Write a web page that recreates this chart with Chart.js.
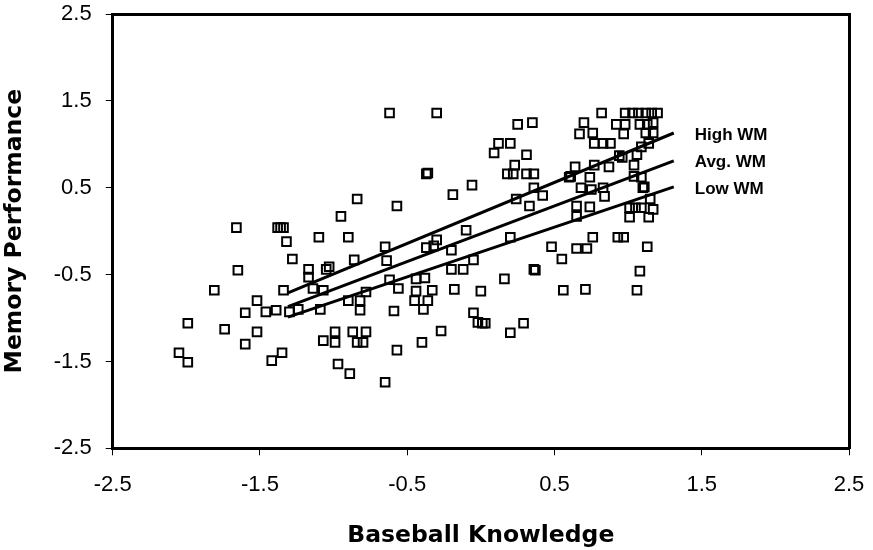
<!DOCTYPE html>
<html><head><meta charset="utf-8">
<script src="https://cdn.jsdelivr.net/npm/chart.js@4"></script>
<style>html,body{margin:0;padding:0;background:#fff}#wrap{width:873px;height:550px;position:relative}</style>
</head><body><div id="wrap"><canvas id="c" width="873" height="550"></canvas></div>
<script>
// ---- data ----
const scatterX = [
 -1.66,-1.38,-1.36,-1.34,-1.32,-1.10,-1.28,-1.65,-1.17,-1.17,-1.05,-1.03,-1.81,-1.34,-1.14,-1.07,-1.52,-1.60,-1.46,-1.39,-1.30,-1.24,-1.09,-1.99,-1.74,-1.52,-1.07,-2.05,-1.99,-1.60,-1.35,-1.42,
 -0.62,-0.30,0.09,0.12,0.20,-0.37,-0.36,-0.19,-0.06,-0.84,-0.57,-0.95,-0.90,-0.10,-0.30,-0.65,-0.37,-0.32,-0.20,
 -0.05,-0.86,-0.64,-0.20,-0.12,-0.62,-0.44,-0.38,-0.56,-0.78,-0.44,-0.33,-0.18,0.00,-0.90,-0.82,-0.45,-0.36,-0.82,-0.59,-0.39,-0.05,-0.02,0.01,0.03,-0.99,-0.99,-0.87,-0.78,-0.84,-0.80,-0.27,-0.40,-0.57,-0.97,-0.89,-0.65,
 0.82,0.98,1.03,1.07,1.12,1.16,1.20,0.25,0.35,0.70,0.92,0.98,1.08,1.13,1.17,0.67,0.76,0.97,1.12,1.17,0.77,0.83,0.88,1.09,1.14,0.31,0.94,0.96,1.06,0.23,0.64,0.77,0.87,1.04,0.18,0.22,0.31,0.36,0.60,0.61,0.74,1.04,1.09,0.36,0.42,0.68,0.75,0.83,0.84,1.10,1.11,0.24,0.33,0.65,0.74,0.65,1.15,1.17,1.01,1.05,1.09,1.01,1.14,0.20,0.76,0.93,0.97,0.48,0.65,0.72,1.13,
 0.55,0.16,0.36,0.37,1.08,0.56,0.71,1.06,0.29,0.20
];
const scatterY = [
 0.04,0.04,0.04,0.04,-0.12,-0.07,-0.32,-0.45,-0.44,-0.53,-0.44,-0.41,-0.68,-0.68,-0.66,-0.68,-0.80,-0.94,-0.93,-0.91,-0.93,-0.90,-0.90,-1.06,-1.13,-1.16,-1.26,-1.40,-1.51,-1.30,-1.40,-1.49,
 1.36,1.36,0.90,1.01,1.01,0.66,0.67,0.42,0.53,0.37,0.29,0.17,-0.07,0.01,-0.10,-0.18,-0.19,-0.17,-0.22,
 -0.33,-0.33,-0.34,-0.44,-0.44,-0.56,-0.55,-0.54,-0.66,-0.70,-0.69,-0.68,-0.67,-0.69,-0.80,-0.80,-0.80,-0.80,-0.91,-0.92,-0.90,-0.94,-1.05,-1.06,-1.06,-1.16,-1.28,-1.16,-1.16,-1.28,-1.28,-1.15,-1.28,-1.37,-1.53,-1.64,-1.74,
 1.36,1.36,1.36,1.36,1.36,1.36,1.36,1.23,1.25,1.25,1.23,1.23,1.23,1.23,1.25,1.12,1.13,1.12,1.13,1.13,1.01,1.01,1.01,0.97,1.01,0.88,0.87,0.85,0.88,0.76,0.74,0.76,0.74,0.76,0.66,0.66,0.66,0.66,0.62,0.63,0.62,0.63,0.62,0.50,0.41,0.50,0.48,0.50,0.40,0.50,0.51,0.37,0.29,0.29,0.28,0.17,0.37,0.25,0.27,0.27,0.27,0.16,0.16,-0.07,-0.07,-0.07,-0.07,-0.18,-0.20,-0.20,-0.18,
 -0.32,-0.55,-0.44,-0.45,-0.46,-0.68,-0.67,-0.68,-1.06,-1.17
];
const lineX  = [-1.31, 1.31];
const highWM = [-0.71, 1.13];
const avgWM  = [-0.87, 0.81];
const lowWM  = [-0.99, 0.51];
const lineLabels = ['High WM', 'Avg. WM', 'Low WM'];
const tickValues = [-2.5, -1.5, -0.5, 0.5, 1.5, 2.5];
const xTitle = 'Baseball Knowledge';
const yTitle = 'Memory Performance';

// ---- build chart ----
const pts = scatterX.map((x, i) => ({x, y: scatterY[i]}));
const mkLine = ys => lineX.map((x, i) => ({x, y: ys[i]}));
const lineSets = [highWM, avgWM, lowWM].map((ys, i) => ({
  label: lineLabels[i], data: mkLine(ys), showLine: true, borderColor: '#000',
  borderWidth: 3, pointRadius: 0, order: 0
}));

const fitLabels = {
  id: 'fitLabels',
  afterDatasetsDraw(chart) {
    const {ctx} = chart;
    ctx.save();
    ctx.fillStyle = '#000';
    ctx.font = 'bold 17px "Liberation Sans", Arial, sans-serif';
    ctx.textAlign = 'left'; ctx.textBaseline = 'middle';
    for (let i = 0; i < lineLabels.length; i++) {
      const el = chart.getDatasetMeta(i).data;
      const last = el[el.length - 1];
      ctx.fillText(lineLabels[i], last.x + 21, last.y + 2);
    }
    ctx.restore();
  }
};

const tickFont = {family: '"Liberation Sans", Arial, sans-serif', size: 22};
const titleFont = {family: '"DejaVu Sans", sans-serif', size: 23.5, weight: 'bold'};
const setTicks = s => { s.ticks = tickValues.map(v => ({value: v})); };
const axisBorder = {display: true, width: 3, color: '#000'};
const tickGrid = {display: true, drawOnChartArea: false, drawTicks: true, tickLength: 7,
                  color: '#000', lineWidth: 1};

new Chart(document.getElementById('c'), {
  type: 'scatter',
  data: {
    datasets: [
      ...lineSets,
      {label: 'data', data: pts, pointStyle: 'rect', pointRadius: 6.1, borderWidth: 2,
       borderColor: '#000', backgroundColor: 'rgba(0,0,0,0)', order: 1}
    ]
  },
  options: {
    responsive: false, animation: false, devicePixelRatio: 1,
    layout: {padding: {left: 0, top: 14, right: 24, bottom: 0}},
    plugins: {legend: {display: false}, tooltip: {enabled: false}},
    scales: {
      x: {
        min: -2.5, max: 2.5, afterBuildTicks: setTicks,
        afterFit: s => { s.height = 101.7; s.paddingLeft = 0; s.paddingRight = 0; },
        border: axisBorder, grid: tickGrid,
        ticks: {color: '#000', font: tickFont, padding: 16.5, maxRotation: 0, autoSkip: false,
                callback: v => String(v)},
        title: {display: true, text: xTitle, color: '#000', font: titleFont, padding: {top: 0, bottom: 0}}
      },
      y: {
        min: -2.5, max: 2.5, afterBuildTicks: setTicks,
        afterFit: s => { s.width = 112.7; s.paddingTop = 0; s.paddingBottom = 0; },
        border: axisBorder, grid: tickGrid,
        ticks: {color: '#000', font: tickFont, padding: 14, autoSkip: false,
                callback: v => String(v)},
        title: {display: true, text: yTitle, color: '#000', font: titleFont, padding: {top: 1, bottom: 0}}
      },
      xTop: {
        type: 'linear', position: 'top', axis: 'x', min: -2.5, max: 2.5,
        afterFit: s => { s.height = 0; s.paddingLeft = 0; s.paddingRight = 0; },
        border: axisBorder, grid: {display: false, drawTicks: false}, ticks: {display: false}
      },
      yRight: {
        type: 'linear', position: 'right', axis: 'y', min: -2.5, max: 2.5,
        afterFit: s => { s.width = 0; s.paddingTop = 0; s.paddingBottom = 0; },
        border: axisBorder, grid: {display: false, drawTicks: false}, ticks: {display: false}
      }
    }
  },
  plugins: [fitLabels]
});
</script></body></html>
